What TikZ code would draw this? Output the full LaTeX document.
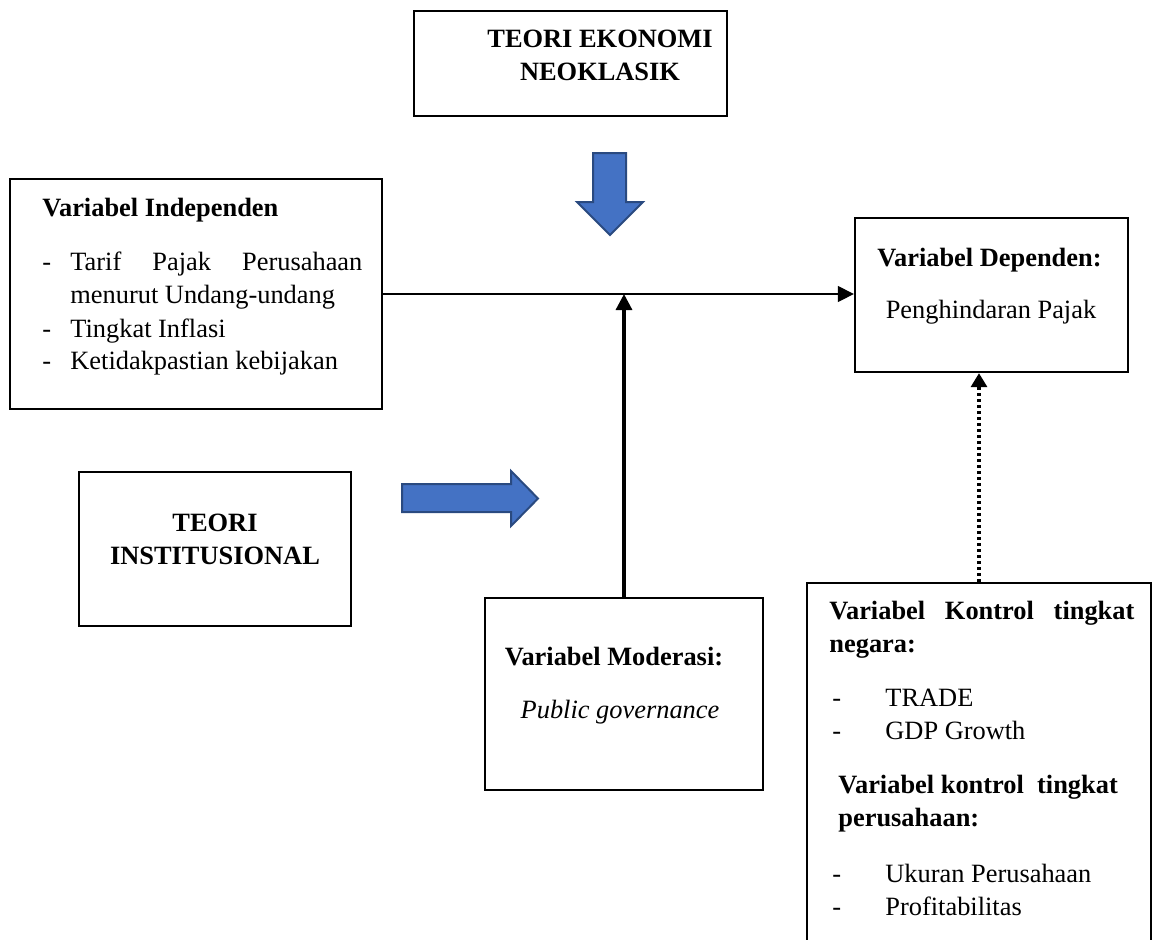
\documentclass[tikz,border=0pt]{standalone}
\usepackage{fontspec}
\setmainfont{Liberation Serif}
\usepackage{xcolor}
\usetikzlibrary{arrows.meta,positioning}
\definecolor{blokbiru}{HTML}{4472C4}
\definecolor{tepibiru}{HTML}{2A4A80}
\hyphenpenalty=10000
\exhyphenpenalty=10000
\tolerance=9999
\hbadness=10000
\newcommand{\butir}[2][14pt]{\noindent\hangindent=#1\hangafter=1\makebox[#1][l]{-}#2\par}
\newcommand{\strip}[1]{\makebox[26.5pt][l]{-}#1}

\begin{document}
\begin{tikzpicture}[
		x=0.5pt,y=-0.5pt,
		font=\fontsize{13.2pt}{16.5pt}\selectfont,
		box/.style={draw,line width=1.15pt,inner sep=0pt},
		teks/.style={inner sep=0pt},
		judul/.style={teks,font=\fontsize{13.2pt}{16.5pt}\selectfont\bfseries},
		blok/.style={fill=blokbiru,draw=tepibiru,line width=1pt,line join=miter},
		arrow/.style={-{Triangle[length=8pt,width=8pt]},line width=0.65pt},
		tebal/.style={arrow,line width=1.6pt},
		titik/.style={-{Triangle[length=7pt,width=8pt]},line width=1.6pt,dash pattern=on 1.6pt off 1.4pt}
		]
		\useasboundingbox (0,0) rectangle (1157,939);
		\clip (0,0) rectangle (1157,939);
		\node[box,minimum width=156.5pt,minimum height=52.5pt] (neoklasik) at (570.5,63.5) {};
		\node[box,minimum width=186pt,minimum height=115pt] (independen) at (196,294) {};
		\node[box,minimum width=136.5pt,minimum height=77pt] (dependen) at (991.5,295) {};
		\node[box,minimum width=136pt,minimum height=77pt] (institusional) at (215,549) {};
		\node[box,minimum width=139pt,minimum height=96pt] (moderasi) at (624,694) {};
		\node[box,minimum width=172pt,minimum height=198.5pt] (kontrol) at (979,781.5) {};
		\node[judul,align=center,anchor=north] (neoklasikteks) at (600,29.5) {TEORI EKONOMI\\NEOKLASIK};
		\node[judul,align=center,anchor=north] (institusionalteks) at (215,513.5) {TEORI\\INSTITUSIONAL};
		\node[judul,anchor=base west] (independenjudul) at (42,216) {Variabel Independen};
		\node[teks,anchor=north west,text width=160pt,align=justify] (independenisi) at (42,252) {\butir{Tarif Pajak Perusahaan menurut Undang-undang}\butir{Tingkat Inflasi}\butir{Ketidakpastian kebijakan}};
		\node[judul,anchor=base] (dependenjudul) at (989.5,266) {Variabel Dependen:};
		\node[teks,anchor=base] (dependenisi) at (991,318) {Penghindaran Pajak};
		\node[judul,anchor=base] (moderasijudul) at (614,665) {Variabel Moderasi:};
		\node[teks,anchor=base] (moderasiisi) at (620,718) {\itshape Public governance};
		\node[judul,anchor=north west,text width=152.5pt,align=justify] (negarajudul) at (829,601) {Variabel Kontrol tingkat negara:};
		\node[teks,anchor=north west,align=left] (negaraisi) at (832,688.5) {\strip{TRADE}\\\strip{GDP Growth}};
		\node[judul,anchor=north west,align=left] (perusahaanjudul) at (838,775) {Variabel kontrol\ \ tingkat\\perusahaan:};
		\node[teks,anchor=north west,align=left] (perusahaanisi) at (832,864) {\strip{Ukuran Perusahaan}\\\strip{Profitabilitas}};
		\draw[blok] (593,153) -- (626,153) -- (626,202) -- (643,202) -- (610,235) -- (577,202) -- (593,202) -- cycle;
		\draw[blok] (402,484) -- (511,484) -- (511,471) -- (538,498.5) -- (511,526) -- (511,512) -- (402,512) -- cycle;
		\coordinate (temu) at (moderasi.north |- independen.east);
		\draw[arrow] (independen.east) -- (independen.east -| dependen.west);
		\draw[tebal] (moderasi.north) -- (temu);
		\draw[titik] (kontrol.north) -- (kontrol.north |- dependen.south);
	\end{tikzpicture}
\end{document}
